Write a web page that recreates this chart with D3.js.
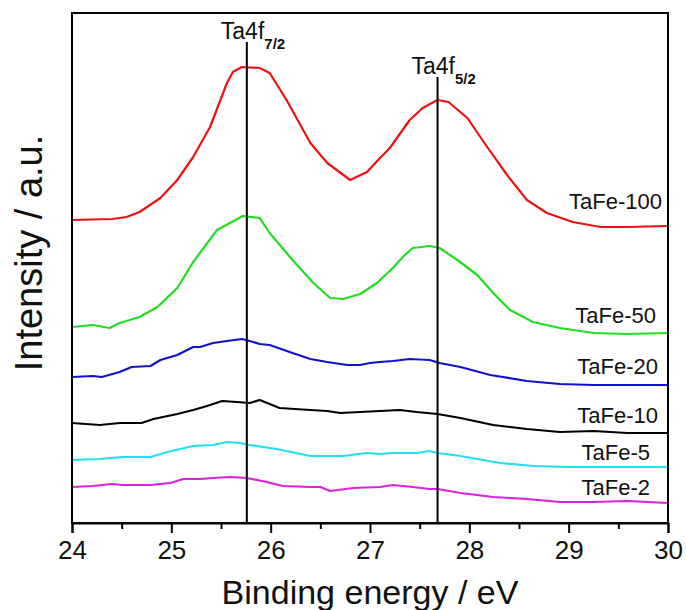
<!DOCTYPE html>
<html>
<head>
<meta charset="utf-8">
<script src="https://cdn.jsdelivr.net/npm/d3@7"></script>
<style>
  html, body { margin: 0; padding: 0; background: #fff; }
  svg { display: block; font-family: "Liberation Sans", Arial, sans-serif; }
</style>
</head>
<body>
<svg id="chart" width="686" height="610"></svg>
<script>
// ---------------- data ----------------
const seriesNames = ["TaFe-100", "TaFe-50", "TaFe-20", "TaFe-10", "TaFe-5", "TaFe-2"];

const energy100 = [24.00,24.41,24.55,24.68,24.89,25.06,25.22,25.39,25.56,25.62,25.71,25.89,25.99,26.16,26.40,26.57,26.80,26.97,27.10,27.20,27.40,27.53,27.68,27.79,27.98,28.18,28.38,28.58,28.78,29.04,29.32,29.59,30.00];
const intensity100 = [303,304,306,311,325,343,366,396,440,451,456,455,450,423,380,360,343,351,365,375,403,415,423,421,405,376,348,323,310,301,296,296,297];

const energy50 = [24.00,24.21,24.38,24.48,24.68,24.86,25.06,25.22,25.46,25.72,25.89,25.99,26.22,26.43,26.60,26.73,26.90,27.07,27.23,27.33,27.43,27.60,27.70,27.88,28.08,28.24,28.41,28.64,28.91,29.25,29.59,30.00];
const intensity50 = [196,198,195,200,206,216,235,261,293,307,305,290,263,240,225,224,229,240,255,266,275,277,275,263,248,230,213,201,195,190,189,190];

const energy20 = [24.00,24.21,24.30,24.48,24.60,24.79,24.89,25.06,25.22,25.29,25.42,25.56,25.71,25.79,25.89,25.99,26.22,26.40,26.57,26.77,26.90,27.00,27.10,27.23,27.40,27.60,27.70,27.91,28.21,28.58,28.91,29.25,29.52,30.00];
const intensity20 = [146,147,146,151,156,157,163,168,176,176,180,182,184,182,179,178,170,164,161,158,158,160,161,162,164,163,160,156,148,142,139,138,138,138];

const energy10 = [24.00,24.28,24.48,24.70,24.82,25.06,25.22,25.36,25.51,25.66,25.79,25.89,26.09,26.40,26.57,26.70,26.90,27.10,27.30,27.47,27.68,27.91,28.24,28.58,28.91,29.25,29.59,30.00];
const intensity10 = [100,98,100,100,104,109,113,117,122,121,120,123,115,113,112,110,111,112,113,111,109,105,98,94,91,92,90,90];

const energy5 = [24.00,24.28,24.51,24.79,24.96,25.22,25.42,25.56,25.69,25.79,26.06,26.40,26.73,26.97,27.10,27.23,27.47,27.60,27.68,27.91,28.31,28.64,28.98,29.45,30.00];
const intensity5 = [63,64,66,66,71,77,78,81,80,78,74,67,67,70,69,70,70,72,70,67,60,57,56,56,56];

const energy2 = [24.00,24.21,24.40,24.51,24.79,24.99,25.12,25.29,25.42,25.59,25.76,25.96,26.12,26.40,26.50,26.60,26.83,27.10,27.23,27.43,27.60,27.68,27.91,28.24,28.58,28.91,29.25,29.59,30.00];
const intensity2 = [36,37,39,38,38,40,44,44,45,46,45,41,37,36,36,32,35,36,38,36,34,34,30,26,24,21,21,22,20];

const peakEnergies = [25.76, 27.68];
const peakMain = ["Ta4f", "Ta4f"];
const peakSub = ["7/2", "5/2"];

const xTickValues = [24, 25, 26, 27, 28, 29, 30];
const xMinorTicks = [24.5, 25.5, 26.5, 27.5, 28.5, 29.5];

const xTitle = "Binding energy / eV";
const yTitle = "Intensity / a.u.";

// ---------------- layout / style ----------------
const colors = ["#ee1111", "#22dd22", "#1111cc", "#000000", "#22e0f0", "#dd22dd"];
const labelDx = [-6, -12, -10, -10, -18, -18];   // px from right frame edge (text end)
const labelDy = [-17, -10, -11, -10, -7, -8];    // px above curve end
const peakTopY = [42, 77];
const peakTextY = [39, 74];

const margin = { left: 72, right: 18, top: 13, bottom: 87 };
const W = 686, H = 610;
const plotW = W - margin.left - margin.right;
const plotH = H - margin.top - margin.bottom;

const svg = d3.select("#chart");
const g = svg.append("g").attr("transform", `translate(${margin.left},${margin.top})`);

const x = d3.scaleLinear().domain([24, 30]).range([0, plotW]);
const y = d3.scaleLinear().domain([0, 510]).range([plotH, 0]);

const seriesData = [
  [energy100, intensity100],
  [energy50, intensity50],
  [energy20, intensity20],
  [energy10, intensity10],
  [energy5, intensity5],
  [energy2, intensity2]
].map(([e, v], i) => ({ name: seriesNames[i], color: colors[i], pts: e.map((ev, j) => [ev, v[j]]) }));

const line = d3.line().x(d => x(d[0])).y(d => y(d[1]));

// curves
g.selectAll("path.series")
  .data(seriesData)
  .join("path")
  .attr("class", "series")
  .attr("fill", "none")
  .attr("stroke", d => d.color)
  .attr("stroke-width", 2.2)
  .attr("stroke-linejoin", "round")
  .attr("d", d => line(d.pts));

// series labels
g.selectAll("text.slabel")
  .data(seriesData)
  .join("text")
  .attr("class", "slabel")
  .attr("x", (d, i) => x(30) + labelDx[i])
  .attr("y", (d, i) => y(d.pts[d.pts.length - 1][1]) + labelDy[i])
  .attr("text-anchor", "end")
  .attr("font-size", 22)
  .attr("fill", "#111")
  .text(d => d.name);

// peak lines
peakEnergies.forEach((pe, i) => {
  g.append("line")
    .attr("x1", x(pe)).attr("x2", x(pe))
    .attr("y1", peakTopY[i] - margin.top).attr("y2", plotH)
    .attr("stroke", "#000").attr("stroke-width", 2);
  const t = g.append("text")
    .attr("x", x(pe) - 26)
    .attr("y", peakTextY[i] - margin.top)
    .attr("font-size", 23)
    .attr("fill", "#111");
  t.append("tspan").text(peakMain[i]);
  t.append("tspan").attr("dy", 10).attr("font-size", 15).attr("font-weight", "bold").text(peakSub[i]);
});

// frame
g.append("rect")
  .attr("x", 0).attr("y", 0).attr("width", plotW).attr("height", plotH)
  .attr("fill", "none").attr("stroke", "#000").attr("stroke-width", 2);

// x axis
const xAxis = g.append("g").attr("transform", `translate(0,${plotH})`)
  .call(d3.axisBottom(x).tickValues(xTickValues).tickFormat(d3.format("d")).tickSize(10).tickPadding(8));
xAxis.select(".domain").attr("stroke-width", 2);
xAxis.selectAll(".tick line").attr("stroke-width", 2);
xAxis.selectAll(".tick text").attr("font-size", 26).attr("font-family", "Liberation Sans, Arial, sans-serif").attr("fill", "#111");

const xAxisMinor = g.append("g").attr("transform", `translate(0,${plotH})`)
  .call(d3.axisBottom(x).tickValues(xMinorTicks).tickFormat("").tickSize(6));
xAxisMinor.select(".domain").remove();
xAxisMinor.selectAll(".tick line").attr("stroke-width", 2);

// titles
svg.append("text")
  .attr("x", margin.left + plotW / 2)
  .attr("y", 604)
  .attr("text-anchor", "middle")
  .attr("font-size", 34)
  .attr("fill", "#111")
  .text(xTitle);

svg.append("text")
  .attr("transform", `translate(42,${margin.top + plotH / 2 - 15}) rotate(-90)`)
  .attr("text-anchor", "middle")
  .attr("font-size", 38)
  .attr("fill", "#111")
  .text(yTitle);
</script>
</body>
</html>
